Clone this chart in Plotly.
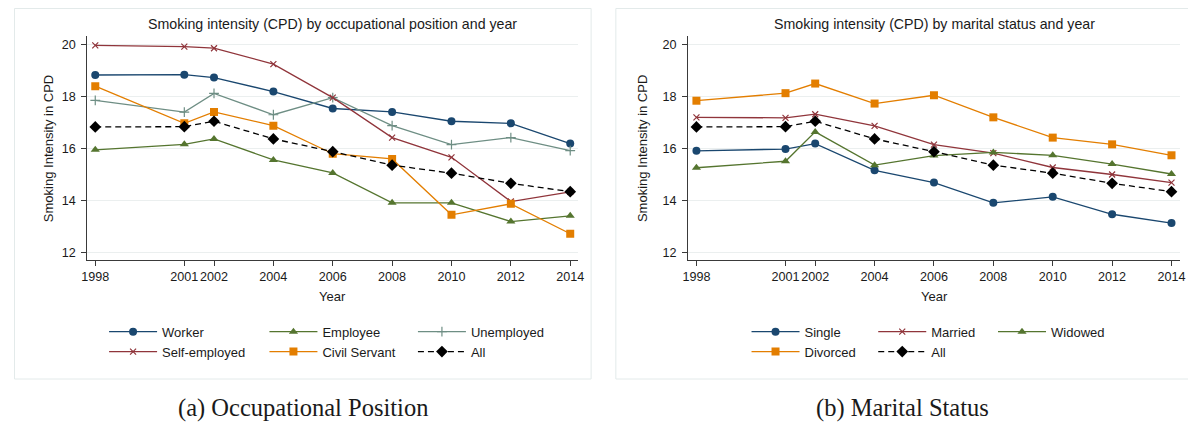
import plotly.graph_objects as go

# The page body adds an 8px margin, so the figure is drawn 8px smaller and
# every reference pixel position is shifted by that offset.
OFF = 8
W, H = 1196 - OFF, 423 - OFF

years = [1998, 2001, 2002, 2004, 2006, 2008, 2010, 2012, 2014]
year_ticks = [1998, 2001, 2002, 2004, 2006, 2008, 2010, 2012, 2014]
y_ticks = [12, 14, 16, 18, 20]

# Panel (a): occupational position
worker        = [18.82, 18.83, 18.72, 18.18, 17.53, 17.40, 17.04, 16.96, 16.18]
employee      = [15.94, 16.15, 16.36, 15.55, 15.05, 13.90, 13.90, 13.18, 13.40]
unemployed    = [17.84, 17.39, 18.11, 17.29, 17.95, 16.87, 16.14, 16.41, 15.91]
self_employed = [19.96, 19.91, 19.85, 19.24, 17.95, 16.41, 15.65, 13.95, 14.32]
civil_servant = [18.39, 16.96, 17.40, 16.87, 15.79, 15.59, 13.44, 13.86, 12.71]
all_cpd       = [16.82, 16.83, 17.04, 16.36, 15.87, 15.35, 15.04, 14.65, 14.33]

# Panel (b): marital status
single   = [15.90, 15.97, 16.18, 15.15, 14.68, 13.90, 14.13, 13.46, 13.12]
married  = [17.19, 17.17, 17.31, 16.86, 16.14, 15.81, 15.26, 14.99, 14.68]
widowed  = [15.25, 15.50, 16.63, 15.35, 15.72, 15.84, 15.73, 15.39, 15.01]
divorced = [17.83, 18.12, 18.49, 17.72, 18.04, 17.19, 16.41, 16.15, 15.73]

NAVY, MAROON, GREEN, ORANGE, TEAL = "#1a476f", "#90353b", "#55752f", "#e37e00", "#6e8e84"
FONT = "Liberation Sans, Arial, sans-serif"
SERIF = "Liberation Serif, Times New Roman, serif"
TXT = "#1a1a1a"

def px(x):
    return (x - OFF) / W

def py(y):
    return 1 - (y - OFF) / H

fig = go.Figure()

def add(x, y, name, color, symbol, msize, xa, ya, legend, dash="solid", mline=0):
    fig.add_trace(go.Scatter(
        x=x, y=y, name=name, mode="lines+markers",
        line=dict(color=color, width=1.3, dash=dash),
        marker=dict(symbol=symbol, size=msize, color=color,
                    line=dict(color=color, width=mline)),
        xaxis=xa, yaxis=ya, legend=legend, showlegend=True,
    ))

DASH = "6px,4px"
# panel a (legend columns: legend, legend2, legend3)
add(years, worker, "Worker", NAVY, "circle", 8, "x", "y", "legend")
add(years, employee, "Employee", GREEN, "triangle-up", 8, "x", "y", "legend2")
add(years, unemployed, "Unemployed", TEAL, "cross-thin", 7, "x", "y", "legend3", mline=1.2)
add(years, self_employed, "Self-employed", MAROON, "x-thin", 6, "x", "y", "legend", mline=1.2)
add(years, civil_servant, "Civil Servant", ORANGE, "square", 8, "x", "y", "legend2")
add(years, all_cpd, "All", "#000000", "diamond", 9, "x", "y", "legend3", dash=DASH)

# panel b (legend columns: legend4, legend5, legend6)
add(years, single, "Single", NAVY, "circle", 8, "x2", "y2", "legend4")
add(years, married, "Married", MAROON, "x-thin", 6, "x2", "y2", "legend5", mline=1.2)
add(years, widowed, "Widowed", GREEN, "triangle-up", 8, "x2", "y2", "legend6")
add(years, divorced, "Divorced", ORANGE, "square", 8, "x2", "y2", "legend4")
add(years, all_cpd, "All", "#000000", "diamond", 9, "x2", "y2", "legend5", dash=DASH)

axis_common = dict(
    showline=True, linecolor="#3a3a3a", linewidth=1,
    ticks="outside", ticklen=5, tickcolor="#3a3a3a", tickwidth=1,
    tickfont=dict(family=FONT, size=12.6, color=TXT),
    zeroline=False,
)
xcommon = dict(tickvals=year_ticks, tickangle=0, showgrid=False, **axis_common)
ycommon = dict(tickvals=y_ticks, range=[11.70, 20.32], showgrid=True,
               gridcolor="#ebefef", gridwidth=1, ticklabelstandoff=3, **axis_common)

fig.update_layout(
    width=W, height=H,
    margin=dict(l=0, r=0, t=0, b=0),
    paper_bgcolor="white", plot_bgcolor="white",
    font=dict(family=FONT, size=13, color=TXT),
    xaxis=dict(domain=[px(82), px(578)], range=[1997.73, 2014.27], anchor="y", **xcommon),
    yaxis=dict(domain=[py(260), py(36)], anchor="x", **ycommon),
    xaxis2=dict(domain=[px(689), px(1186)], range=[1997.72, 2014.29], anchor="y2", **xcommon),
    yaxis2=dict(domain=[py(260), py(36)], anchor="x2", **ycommon),
)

leg_top = py(331.7 - 5 - 10)
leg_common = dict(orientation="v", xanchor="left", yanchor="top", y=leg_top,
                  bgcolor="rgba(0,0,0,0)", borderwidth=0, itemwidth=48,
                  font=dict(family=FONT, size=13, color=TXT), tracegroupgap=0,
                  itemclick=False)
fig.update_layout(
    legend=dict(x=px(108 - 9), **leg_common),
    legend2=dict(x=px(270 - 9), **leg_common),
    legend3=dict(x=px(420 - 9), **leg_common),
    legend4=dict(x=px(757 - 9), **leg_common),
    legend5=dict(x=px(885 - 9), **leg_common),
    legend6=dict(x=px(1006 - 9), **leg_common),
)

# panel frames
border = dict(color="#e3eaea", width=1)
fig.add_shape(type="rect", xref="paper", yref="paper", x0=px(8.5), x1=px(591),
              y0=py(379), y1=py(8.5), line=border, layer="below")
fig.add_shape(type="rect", xref="paper", yref="paper", x0=px(616), x1=px(1200),
              y0=py(379), y1=py(8.5), line=border, layer="below")

def note(text, x, y, size, angle=0, family=FONT):
    fig.add_annotation(text=text, x=px(x), y=py(y), xref="paper", yref="paper",
                       xanchor="center", yanchor="middle", showarrow=False,
                       textangle=angle, font=dict(family=family, size=size, color=TXT))

note("Smoking intensity (CPD) by occupational position and year", 330, 24, 14.2)
note("Smoking intensity (CPD) by marital status and year", 937.5, 24, 14.2)
note("Smoking Intensity in CPD", 43, 148.5, 13, angle=-90)
note("Smoking Intensity in CPD", 643, 148.5, 13, angle=-90)
note("Year", 330, 296, 13)
note("Year", 937.5, 296, 13)
note("(a) Occupational Position", 300, 408, 24.5, family=SERIF)
note("(b) Marital Status", 906, 408, 24.5, family=SERIF)

fig.write_html("out.html")
